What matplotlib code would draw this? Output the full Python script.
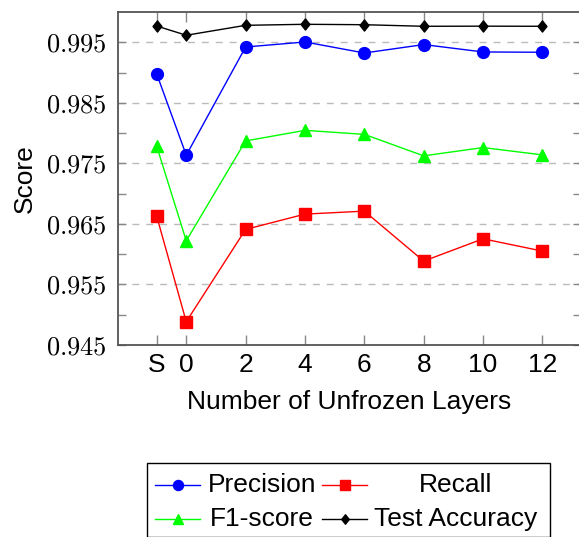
import matplotlib
matplotlib.use("Agg")
import matplotlib.pyplot as plt
from matplotlib.lines import Line2D
from matplotlib.patches import Rectangle
from matplotlib.path import Path
from matplotlib.ticker import FixedLocator, FuncFormatter

plt.rcParams['mathtext.fontset'] = 'cm'
plt.rcParams['font.family'] = ['Liberation Sans', 'DejaVu Sans']

x_pos = [-1, 0, 2, 4, 6, 8, 10, 12]
x_labels = ["S", "0", "2", "4", "6", "8", "10", "12"]
precision = [0.98983, 0.97635, 0.99422, 0.99505, 0.99323, 0.99462, 0.9934, 0.99335]
recall = [0.96634, 0.94885, 0.96409, 0.96662, 0.96711, 0.95886, 0.96254, 0.96051]
f1 = [0.97789, 0.96221, 0.97871, 0.98045, 0.97979, 0.97624, 0.97761, 0.9764]
test_acc = [0.99769, 0.99616, 0.9978, 0.99797, 0.9979, 0.99764, 0.99766, 0.99764]
series_names = ["Precision", "Recall", "F1-score", "Test Accuracy"]

W, H = 579, 537
fig = plt.figure(figsize=(W / 100, H / 100), dpi=100)
ax = fig.add_axes([118 / W, 1 - 345 / H, (581 - 118) / W, (345 - 12) / H])

diamond = Path([(0, 1), (0.8, 0), (0, -1), (-0.8, 0), (0, 1)],
               [Path.MOVETO, Path.LINETO, Path.LINETO, Path.LINETO, Path.CLOSEPOLY])

styles = [
    dict(color=(0, 0, 1), marker='o', ms=8.5),
    dict(color=(1, 0, 0), marker='s', ms=8),
    dict(color=(0, 1, 0), marker='^', ms=8.5),
    dict(color=(0, 0, 0), marker=diamond, ms=8),
]
for vals, st in zip([precision, recall, f1, test_acc], styles):
    ax.plot(x_pos, vals, color=st['color'], lw=1.0, marker=st['marker'],
            ms=st['ms'], mfc=st['color'], mec=st['color'], zorder=3, clip_on=False)

ax.set_xlim(-2.3, 13.3)
ax.set_ylim(0.945, 1.0)

major_y = [0.945, 0.955, 0.965, 0.975, 0.985, 0.995]
minor_y = [0.95, 0.96, 0.97, 0.98, 0.99]
ax.yaxis.set_major_locator(FixedLocator(major_y))
ax.yaxis.set_minor_locator(FixedLocator(minor_y))
ax.yaxis.set_major_formatter(FuncFormatter(lambda v, p: r"$%.3f$" % v))
ax.set_xticks(x_pos)
ax.set_xticklabels(x_labels)

spine_c = '#555555'
for s in ax.spines.values():
    s.set_color(spine_c)
    s.set_linewidth(1.3)

ax.tick_params(axis='both', which='both', direction='in', color='#888888', width=1.0)
ax.tick_params(axis='y', which='both', length=6, left=True, right=True)
ax.tick_params(axis='y', which='major', labelsize=19, pad=8)
ax.tick_params(axis='x', which='major', length=7, top=True, bottom=True, labelsize=19, pad=6)

ax.grid(axis='y', which='major', color='#bbbbbb', linestyle=(0, (5, 5)), lw=1.0, zorder=0)
ax.set_axisbelow(True)

ax.set_ylabel("Score", fontsize=19, labelpad=7)
ax.set_xlabel("Number of Unfrozen Layers", fontsize=19, labelpad=9)

# legend (manual, pgfplots style)
fx = lambda px: px / W
fy = lambda py: 1 - py / H
fig.patches.append(Rectangle((fx(147), fy(537)), fx(550) - fx(147), fy(463) - fy(537),
                             transform=fig.transFigure, fill=False, ec='black', lw=1.0))
rows = [485, 519]
handle_x = [(155, 200), (322, 367)]
text_cx = [262, 456]
for i, (name, st) in enumerate(zip(series_names, styles)):
    r, c = divmod(i, 2)
    x0, x1 = handle_x[c]
    fig.add_artist(Line2D([fx(x0), fx(x1)], [fy(rows[r])] * 2, transform=fig.transFigure,
                          color=st['color'], lw=1.0))
    fig.add_artist(Line2D([fx((x0 + x1) / 2)], [fy(rows[r])], transform=fig.transFigure,
                          color=st['color'], marker=st['marker'], ms=st['ms'] * 0.85,
                          mfc=st['color'], mec=st['color']))
    fig.text(fx(text_cx[c]), fy(rows[r]), name, ha='center', va='center', fontsize=19)

fig.savefig("out.png", dpi=100)
